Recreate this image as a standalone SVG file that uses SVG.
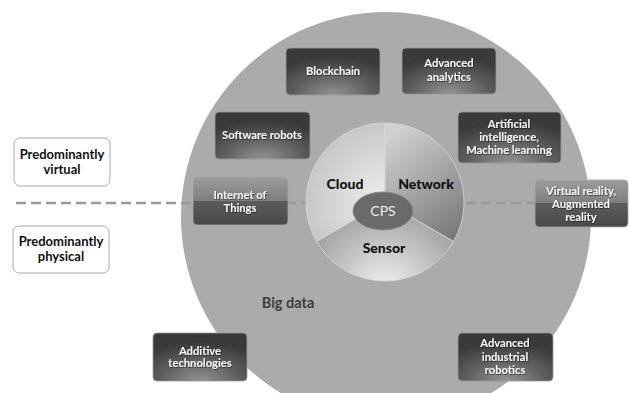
<svg xmlns="http://www.w3.org/2000/svg" width="630" height="393" viewBox="0 0 630 393">
  <defs>
    <!-- dark technology tiles: light glow at the lower centre -->
    <radialGradient id="tileGrad" cx="50%" cy="95%" r="75%" fx="50%" fy="100%">
      <stop offset="0" stop-color="#939393"/>
      <stop offset="0.55" stop-color="#5e5e5e"/>
      <stop offset="1" stop-color="#3a3a3a"/>
    </radialGradient>
    <!-- glossy tiles sitting on the divider line -->
    <linearGradient id="glossGrad" x1="0" y1="0" x2="0" y2="1">
      <stop offset="0" stop-color="#9c9c9c"/>
      <stop offset="0.5" stop-color="#7e7e7e"/>
      <stop offset="0.5" stop-color="#5c5c5c"/>
      <stop offset="1" stop-color="#484848"/>
    </linearGradient>
    <radialGradient id="cloudGrad" cx="385" cy="202" r="82" gradientUnits="userSpaceOnUse">
      <stop offset="0" stop-color="#efefef"/>
      <stop offset="1" stop-color="#c6c6c6"/>
    </radialGradient>
    <linearGradient id="networkGrad" x1="385" y1="140" x2="464" y2="240" gradientUnits="userSpaceOnUse">
      <stop offset="0" stop-color="#d0d0d0"/>
      <stop offset="1" stop-color="#737373"/>
    </linearGradient>
    <radialGradient id="sensorGrad" cx="385" cy="290" r="90" gradientUnits="userSpaceOnUse">
      <stop offset="0" stop-color="#f2f2f2"/>
      <stop offset="1" stop-color="#9c9c9c"/>
    </radialGradient>
    <!-- soft shadow behind light tile lettering -->
    <filter id="textShadow" x="-10%" y="-30%" width="120%" height="160%">
      <feDropShadow dx="0.6" dy="0.8" stdDeviation="0.5" flood-color="#000000" flood-opacity="0.6"/>
    </filter>
    <style>
      .tile { fill: url(#tileGrad); stroke: #9a9a9a; stroke-width: 0.8; }
      .gloss { fill: url(#glossGrad); stroke: #a8a8a8; stroke-width: 0.8; }
      .tileText { font-family: Lato, "Open Sans", sans-serif; font-weight: 700; font-size: 11.2px; fill: #f4f4f4; text-anchor: middle; filter: url(#textShadow); }
      .sideBox { fill: #ffffff; stroke: #aaaaaa; stroke-width: 1; }
      .sideText { font-family: Lato, "Open Sans", sans-serif; font-weight: 700; font-size: 13px; fill: #111111; text-anchor: middle; }
      .sector { stroke: #d8d8d8; stroke-width: 0.8; }
      .sectorText { font-family: Lato, "Open Sans", sans-serif; font-weight: 900; font-size: 14px; fill: #111111; text-anchor: middle; }
      .divider { fill: none; stroke: #9a9a9a; stroke-width: 2.5; stroke-dasharray: 10 5; }
    </style>
  </defs>

  <rect width="630" height="393" fill="#ffffff"/>

  <!-- big data disc -->
  <g id="big-data">
    <circle cx="386" cy="217" r="205" fill="#ababab"/>
    <text x="288" y="308" font-family="Lato, 'Open Sans', sans-serif" font-weight="700" font-size="14.5" fill="#3c3c3c" text-anchor="middle">Big data</text>
  </g>

  <!-- virtual / physical divider -->
  <g id="connectors">
    <line class="divider" x1="16" y1="203" x2="540" y2="203"/>
  </g>

  <g id="predominantly-virtual">
    <rect class="sideBox" x="14" y="138" width="96" height="48" rx="6"/>
    <text class="sideText" x="62" y="159">Predominantly</text>
    <text class="sideText" x="62" y="174">virtual</text>
  </g>
  <g id="predominantly-physical">
    <rect class="sideBox" x="13" y="226" width="96" height="47" rx="6"/>
    <text class="sideText" x="61" y="246">Predominantly</text>
    <text class="sideText" x="61" y="261">physical</text>
  </g>

  <!-- CPS core -->
  <g id="cps-core">
    <path id="cloud" class="sector" fill="url(#cloudGrad)" d="M385,202 L385,123 A79,79 0 0,0 316.6,241.5 Z"/>
    <path id="network" class="sector" fill="url(#networkGrad)" d="M385,202 L385,123 A79,79 0 0,1 453.4,241.5 Z"/>
    <path id="sensor" class="sector" fill="url(#sensorGrad)" d="M385,202 L453.4,241.5 A79,79 0 0,1 316.6,241.5 Z"/>
    <text class="sectorText" x="345" y="189">Cloud</text>
    <text class="sectorText" x="426" y="189">Network</text>
    <text class="sectorText" x="384" y="253">Sensor</text>
    <ellipse cx="383" cy="211" rx="30" ry="19" fill="#6a6a6a" stroke="#8a8a8a" stroke-width="1"/>
    <text x="383" y="216" font-family="Lato, 'Open Sans', sans-serif" font-size="14" fill="#eeeeee" text-anchor="middle">CPS</text>
  </g>

  <!-- technology tiles -->
  <g id="blockchain">
    <rect class="tile" x="286" y="48" width="94" height="47" rx="4"/>
    <text class="tileText" x="333" y="75">Blockchain</text>
  </g>
  <g id="advanced-analytics">
    <rect class="tile" x="402" y="48" width="94" height="46" rx="4"/>
    <text class="tileText" x="449" y="67">Advanced</text>
    <text class="tileText" x="449" y="81">analytics</text>
  </g>
  <g id="software-robots">
    <rect class="tile" x="215" y="112" width="95" height="47" rx="4"/>
    <text class="tileText" x="262" y="139">Software robots</text>
  </g>
  <g id="artificial-intelligence">
    <rect class="tile" x="458" y="112" width="103" height="51" rx="4"/>
    <text class="tileText" x="509" y="128">Artificial</text>
    <text class="tileText" x="509" y="141">intelligence,</text>
    <text class="tileText" x="509" y="154">Machine learning</text>
  </g>
  <g id="internet-of-things">
    <rect class="gloss" x="193" y="177" width="95" height="48" rx="4"/>
    <text class="tileText" x="240" y="199">Internet of</text>
    <text class="tileText" x="240" y="212">Things</text>
  </g>
  <g id="virtual-reality">
    <rect class="gloss" x="535" y="180" width="93" height="47" rx="4"/>
    <text class="tileText" x="581" y="195">Virtual reality,</text>
    <text class="tileText" x="581" y="208">Augmented</text>
    <text class="tileText" x="581" y="221">reality</text>
  </g>
  <g id="additive-technologies">
    <rect class="tile" x="153" y="333" width="94" height="48" rx="4"/>
    <text class="tileText" x="200" y="355">Additive</text>
    <text class="tileText" x="200" y="367">technologies</text>
  </g>
  <g id="advanced-industrial-robotics">
    <rect class="tile" x="458" y="333" width="95" height="48" rx="4"/>
    <text class="tileText" x="505" y="347">Advanced</text>
    <text class="tileText" x="505" y="361">industrial</text>
    <text class="tileText" x="505" y="374">robotics</text>
  </g>
</svg>
